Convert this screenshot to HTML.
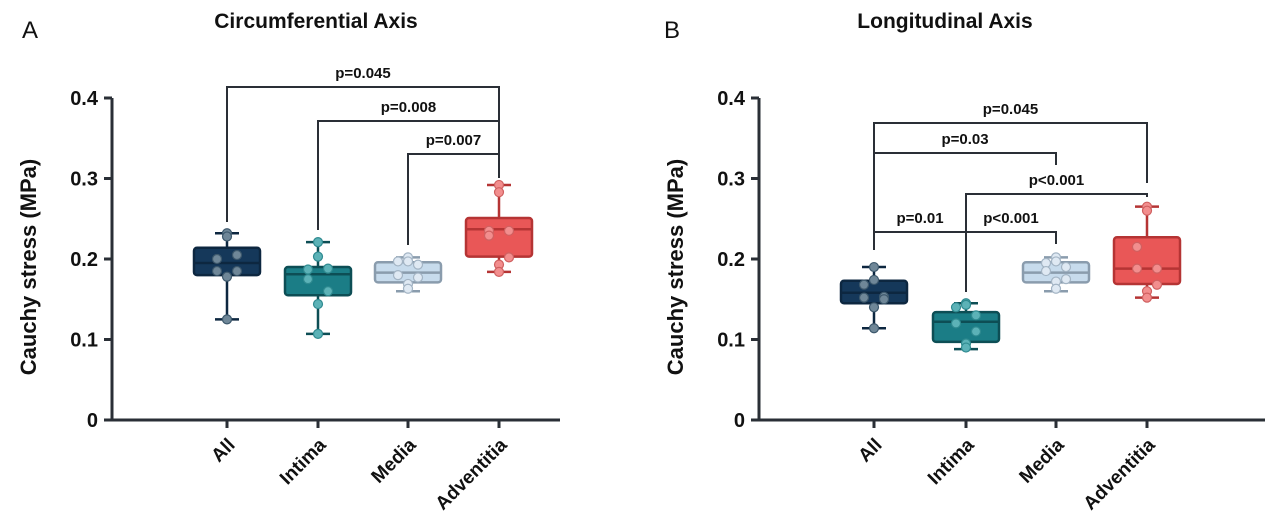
<!DOCTYPE html>
<html><head><meta charset="utf-8"><style>
body{margin:0;background:#fff;}
svg{display:block;font-family:"Liberation Sans",sans-serif;}
</style></head><body>
<svg id="chart" width="1280" height="528" viewBox="0 0 1280 528"></svg>
<script>
const categories=["All","Intima","Media","Adventitia"];
const yTicks=[0,0.1,0.2,0.3,0.4];
const yTickLabels=["0","0.1","0.2","0.3","0.4"];
// panel A: [whiskerLow, q1, median, q3, whiskerHigh]
const circBoxes=[[0.125,0.180,0.195,0.214,0.232],[0.107,0.155,0.181,0.190,0.221],[0.160,0.171,0.183,0.196,0.202],[0.184,0.203,0.237,0.251,0.292]];
const circPoints=[[0.232,0.228,0.200,0.205,0.185,0.185,0.178,0.125],[0.221,0.203,0.187,0.188,0.175,0.160,0.144,0.107],[0.202,0.197,0.197,0.193,0.180,0.177,0.169,0.163],[0.292,0.283,0.235,0.235,0.229,0.202,0.193,0.184]];
const longBoxes=[[0.114,0.145,0.158,0.173,0.190],[0.088,0.097,0.122,0.134,0.145],[0.160,0.171,0.183,0.196,0.202],[0.152,0.169,0.188,0.227,0.265]];
const longPoints=[[0.190,0.174,0.168,0.153,0.152,0.150,0.140,0.114],[0.145,0.143,0.140,0.130,0.120,0.110,0.095,0.090],[0.202,0.197,0.195,0.190,0.185,0.175,0.172,0.163],[0.265,0.260,0.215,0.188,0.188,0.168,0.160,0.152]];
const circP=[["p=0.045",0,3],["p=0.008",1,3],["p=0.007",2,3]];
const longP=[["p=0.045",0,3],["p=0.03",0,2],["p<0.001",1,3],["p=0.01",0,1],["p<0.001",1,2]];

const fills=["#15385a","#1b7d86","#c7dbec","#e95757"];
const strokes=["#0d2740","#0d4e55","#8a9cad","#b53434"];
const dots=["#6f8798","#5cb2b7","#dfe9f3","#f28e8e"];
const dotStroke=["#3d586c","#2f8a90","#a3b4c4","#d06060"];
const NS="http://www.w3.org/2000/svg";
const svg=document.getElementById('chart');
function mk(tag,attrs,parent,text){const e=document.createElementNS(NS,tag);for(const k in attrs)e.setAttribute(k,attrs[k]);if(text!==undefined)e.textContent=text;(parent||svg).appendChild(e);return e;}

function panel(opt){
  const g=mk('g',{});
  
  
  const y=v=>420-805*v;
  const x=i=>opt.xs[i];
  const t=mk('text',{x:opt.titleX,y:28,'font-size':21,'font-weight':'bold','text-anchor':'middle',fill:'#111'},g,opt.title);
  
  const l=mk('text',{x:opt.letterX,y:38,'font-size':24,fill:'#111'},g,opt.letter);
  
  const yl=mk('text',{transform:`translate(${opt.axisX-76},267) rotate(-90)`,'font-size':22,'font-weight':'bold','text-anchor':'middle',fill:'#111'},g,'Cauchy stress (MPa)');
  
  const ax=mk('path',{d:`M${opt.axisX} ${y(0.4)} V420 H${opt.axisEnd}`,stroke:'#2a2f36','stroke-width':3,fill:'none'},g);
  
  yTicks.forEach((v,i)=>{
    mk('line',{x1:opt.axisX-8,x2:opt.axisX,y1:y(v),y2:y(v),stroke:'#2a2f36','stroke-width':3},g);
    const tl=mk('text',{x:opt.axisX-14,y:y(v)+7,'font-size':20,'font-weight':'bold','text-anchor':'end',fill:'#111'},g,yTickLabels[i]);
    
  });
  categories.forEach((c,i)=>{
    mk('line',{x1:x(i),x2:x(i),y1:420,y2:428,stroke:'#2a2f36','stroke-width':3},g);
    const xl=mk('text',{transform:`translate(${x(i)+9},${446}) rotate(-45)`,'font-size':19,'font-weight':'bold','text-anchor':'end',fill:'#111'},g,c);
    
    const b=opt.boxes[i];const w=33;
    const bg=mk('g',{},g);
    
    mk('line',{x1:x(i),x2:x(i),y1:y(b[0]),y2:y(b[4]),stroke:strokes[i],'stroke-width':2.5},bg);
    mk('line',{x1:x(i)-12,x2:x(i)+12,y1:y(b[0]),y2:y(b[0]),stroke:strokes[i],'stroke-width':2.5},bg);
    mk('line',{x1:x(i)-12,x2:x(i)+12,y1:y(b[4]),y2:y(b[4]),stroke:strokes[i],'stroke-width':2.5},bg);
    mk('rect',{x:x(i)-w,y:y(b[3]),width:2*w,height:y(b[1])-y(b[3]),rx:3,fill:fills[i],stroke:strokes[i],'stroke-width':2.5},bg);
    mk('line',{x1:x(i)-w,x2:x(i)+w,y1:y(b[2]),y2:y(b[2]),stroke:strokes[i],'stroke-width':2.5},bg);
    const offs=[0,0,-10,10,-10,10,0,0];
    opt.points[i].forEach((v,k)=>{
      const p=mk('circle',{cx:x(i)+offs[k],cy:y(v),r:4.5,fill:dots[i],stroke:dotStroke[i],'stroke-width':1.2},bg);
      
    });
  });
  opt.pvals.forEach((p,k)=>{
    const [lab,a,b]=p;const by=opt.brY[k];
    const bg=mk('g',{},g);
    
    mk('path',{d:`M${x(a)} ${opt.legA[k]} V${by} H${x(b)} V${opt.legB[k]}`,stroke:'#2a2f36','stroke-width':2,fill:'none'},bg);
    mk('text',{x:(x(a)+x(b))/2,y:by-9,'font-size':15,'font-weight':'bold','text-anchor':'middle',fill:'#111'},bg,lab);
  });
}
panel({name:'panel-a-circumferential',title:'Circumferential Axis',titleX:316,letter:'A',letterX:22,axisX:112,axisEnd:560,xs:[227,318,408,499],
  boxes:circBoxes,points:circPoints,pvals:circP,brY:[87,121,154],legA:[222,230,245],legB:[178,178,178]});
panel({name:'panel-b-longitudinal',title:'Longitudinal Axis',titleX:945,letter:'B',letterX:664,axisX:759,axisEnd:1265,xs:[874,966,1056,1147],
  boxes:longBoxes,points:longPoints,pvals:longP,brY:[123,153,194,232,232],legA:[250,250,255,250,292],legB:[183,165,197,292,244]});
</script>
</body></html>
